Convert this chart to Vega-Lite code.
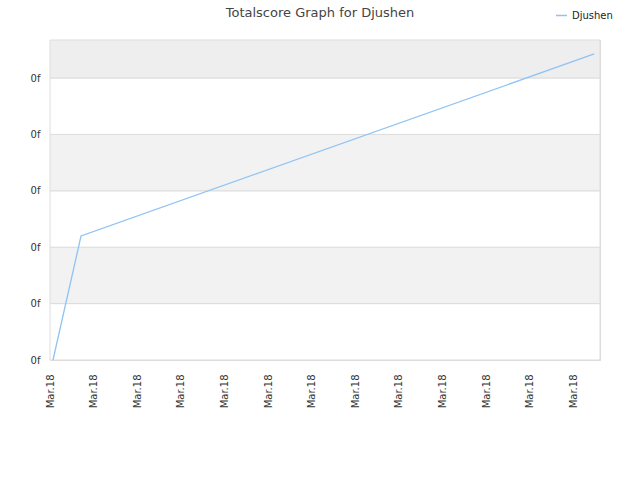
{
  "$schema": "https://vega.github.io/schema/vega-lite/v6.json",
  "width": 550,
  "height": 320,
  "autosize": {"type": "none"},
  "padding": {"left": 50, "top": 40, "right": 40, "bottom": 120},
  "background": "white",
  "title": {
    "text": "Totalscore Graph for Djushen",
    "fontSize": 13,
    "font": "DejaVu Sans",
    "fontWeight": "normal",
    "color": "#444444",
    "anchor": "middle",
    "offset": 0,
    "dy": 11,
    "dx": -5
  },
  "config": {
    "view": {"stroke": "#dddddd", "strokeWidth": 1},
    "font": "DejaVu Sans"
  },
  "datasets": {
    "bands": [
      {"lo": 0, "hi": 1, "shade": "a"},
      {"lo": 1, "hi": 2, "shade": "b"},
      {"lo": 2, "hi": 3, "shade": "a"},
      {"lo": 3, "hi": 4, "shade": "b"},
      {"lo": 4, "hi": 5, "shade": "a"},
      {"lo": 5, "hi": 5.674, "shade": "c"}
    ],
    "series": [
      {"t": 0.069, "score": 0, "player": "Djushen"},
      {"t": 0.711, "score": 2.199, "player": "Djushen"},
      {"t": 12.477, "score": 5.426, "player": "Djushen"}
    ]
  },
  "layer": [
    {
      "data": {"name": "bands"},
      "mark": {"type": "rect", "stroke": "#dddddd", "strokeWidth": 1},
      "encoding": {
        "y": {"field": "lo", "type": "quantitative", "scale": {"domain": [0, 5.674], "nice": false, "zero": false},
          "axis": {"values": [0, 1, 2, 3, 4, 5], "labelExpr": "'0f'", "title": null, "ticks": false, "domain": false,
            "grid": false, "labelPadding": 10, "labelFontSize": 10, "labelColor": "#333333", "labelFont": "DejaVu Sans"}},
        "y2": {"field": "hi"},
        "color": {"field": "shade", "type": "nominal", "scale": {"domain": ["a", "b", "c"], "range": ["#ffffff", "#f2f2f2", "#eeeeee"]}, "legend": null}
      }
    },
    {
      "data": {"name": "series"},
      "mark": {"type": "line", "strokeWidth": 1.3},
      "encoding": {
        "x": {"field": "t", "type": "quantitative", "scale": {"domain": [0, 12.61], "nice": false, "zero": false},
          "axis": {"values": [0, 1, 2, 3, 4, 5, 6, 7, 8, 9, 10, 11, 12], "labelExpr": "'Mar.18'", "title": null, "ticks": false,
            "grid": false, "domain": true, "domainColor": "#dddddd", "labelAngle": -90, "labelAlign": "right", "labelBaseline": "middle",
            "labelPadding": 14, "labelFontSize": 10, "labelColor": "#333333", "labelFont": "DejaVu Sans"}},
        "y": {"field": "score", "type": "quantitative", "scale": {"domain": [0, 5.674], "nice": false, "zero": false}},
        "stroke": {"field": "player", "type": "nominal", "scale": {"range": ["#8fc3f4"]},
          "legend": {"title": null, "orient": "none", "legendX": 505, "legendY": -31, "symbolType": "stroke", "symbolSize": 120,
            "symbolStrokeWidth": 1.5, "labelFontSize": 10, "labelColor": "#222222", "labelFont": "DejaVu Sans"}}
      }
    }
  ],
  "resolve": {"scale": {"color": "independent"}}
}
